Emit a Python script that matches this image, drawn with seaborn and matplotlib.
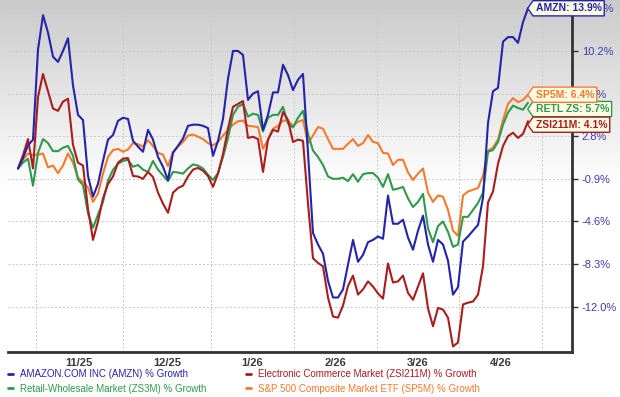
import numpy as np
import pandas as pd
import matplotlib
matplotlib.use('Agg')
import matplotlib.pyplot as plt
from matplotlib.lines import Line2D
from matplotlib.path import Path
import seaborn as sns

# % growth, one value per sample (~ every trading day or two)
amzn = [0.0, 0.9, 2.0, 2.5, 10.3, 13.3, 11.8, 9.7, 9.25, 10.2, 11.3, 7.2, 4.65, 4.2, -0.65, -2.45, -1.33, 0.66, 2.5, 2.9,
        4.13, 4.4, 4.3, 2.4, 1.9, 1.45, 3.35, 2.5, 1.0, 0.14, -1.0, 1.35, 1.96, 2.6, 3.7, 3.8, 3.8, 3.7, 3.5, 1.1,
        2.4, 4.3, 7.8, 10.2, 10.2, 9.85, 5.95, 6.5, 6.7, 3.35, 4.65, 6.6, 6.6, 9.0, 8.1, 6.8, 7.7, 8.2, 1.35, -5.6,
        -6.6, -7.4, -9.75, -11.2, -11.2, -10.5, -8.35, -6.2, -8.1, -7.5, -6.4, -6.2, -5.9, -6.1, -2.35, -4.8, -4.8, -4.45, -6.0, -7.05,
        -5.4, -4.1, -6.6, -8.1, -6.2, -6.6, -8.0, -10.95, -10.3, -6.35, -5.9, -5.4, -4.9, -2.55, 3.95, 6.7, 7.0, 11.0, 11.4, 11.4,
        10.9, 12.7, 13.9]
zsi211m = [0.0, 1.15, 2.55, 0.0, 6.2, 8.2, 6.7, 5.2, 5.0, 5.8, 6.05, 2.05, 0.5, 0.25, -3.5, -6.2, -4.6, -2.6, -1.35, -0.7,
           0.5, 0.85, 0.9, -0.65, -0.7, -0.9, -0.3, -0.75, -2.1, -3.05, -3.85, -2.1, -1.7, -1.5, -0.7, -0.1, 0.05, -0.2, -0.65, -1.6,
           -0.45, 1.25, 3.45, 5.35, 5.6, 5.85, 2.65, 2.75, 2.55, -0.3, 2.5, 3.35, 3.2, 4.9, 4.2, 2.3, 2.5, 2.4, -3.05, -7.8,
           -8.2, -8.5, -11.2, -12.85, -12.95, -11.9, -10.2, -9.3, -10.95, -10.5, -9.8, -10.25, -10.85, -11.3, -8.25, -9.9, -9.8, -9.3, -10.8, -11.4,
           -10.25, -9.1, -12.15, -13.7, -12.1, -12.25, -12.95, -15.45, -15.1, -11.8, -11.65, -11.55, -10.95, -8.5, -2.95, -2.0, 0.4, 1.95, 2.8, 3.1,
           2.65, 3.0, 4.1]
zs3m = [0.0, 0.5, 0.85, -1.5, 1.35, 2.55, 2.2, 1.5, 1.5, 1.8, 1.95, 1.1, -0.95, -1.45, -3.9, -5.15, -4.0, -2.9, -1.05, -0.12,
        0.4, 0.65, 0.75, 0.15, 0.3, -0.1, -0.3, 0.65, -0.1, -0.6, -1.1, -0.3, -0.35, -0.45, 0.0, 0.35, 0.25, 0.0, -0.55, -1.0,
        -0.4, 1.0, 2.65, 4.65, 5.35, 5.6, 4.5, 4.75, 4.65, 3.2, 4.4, 4.65, 4.65, 5.35, 3.9, 3.55, 4.4, 5.0, 3.0, 1.55,
        1.0, 0.3, -0.7, -0.9, -0.9, -0.8, -1.1, -0.5, -1.15, -0.5, -0.4, -0.4, -0.8, -1.6, -0.5, -1.85, -1.75, -1.6, -2.6, -3.35,
        -2.9, -2.2, -5.2, -6.4, -5.0, -4.6, -5.5, -6.8, -6.6, -4.2, -4.2, -3.6, -3.0, -2.1, 1.45, 1.6, 2.3, 3.8, 4.85, 5.45,
        5.25, 5.1, 5.7]
sp5m = [0.0, 0.75, 1.3, 1.15, 1.2, 1.3, 0.1, 0.25, -0.4, 0.25, 1.3, 0.5, -0.8, -1.2, -1.65, -2.9, -2.2, -0.45, 1.0, 1.6,
        1.7, 1.45, 1.65, 2.2, 2.1, 1.9, 2.45, 1.95, 1.35, 1.2, 0.2, 1.45, 1.9, 2.3, 2.85, 2.95, 2.75, 2.55, 2.2, 2.0,
        2.3, 2.85, 3.35, 3.8, 4.1, 4.15, 3.7, 3.65, 3.6, 1.7, 2.5, 3.45, 3.7, 4.15, 4.15, 3.7, 4.05, 4.2, 2.2, 2.85,
        3.6, 3.45, 2.55, 1.7, 1.7, 1.7, 2.15, 2.55, 1.95, 2.2, 2.9, 2.3, 2.2, 1.35, 1.3, 0.3, 0.75, 0.75, -0.35, -1.0,
        -0.45, 0.0, -2.1, -2.9, -2.35, -2.45, -3.6, -5.4, -5.85, -2.35, -2.0, -1.85, -1.7, -0.65, 1.55, 1.8, 2.5, 4.2, 5.6, 6.1,
        5.75, 5.95, 6.4]

legend_labels = ['AMAZON.COM INC (AMZN) % Growth',
                 'Retail-Wholesale Market (ZS3M) % Growth',
                 'Electronic Commerce Market (ZSI211M) % Growth',
                 'S&P 500 Composite Market ETF (SP5M) % Growth']
tag_names = ['AMZN', 'RETL ZS', 'ZSI211M', 'SP5M']
colors = ['#2424a8', '#2f9a4c', '#a81e1e', '#f77a2c']
series = [amzn, zs3m, zsi211m, sp5m]

month_labels = ['11/25', '12/25', '1/26', '2/26', '3/26', '4/26']
month_edges = [3.5, 21.0, 38.5, 55.1, 71.8, 88.2, 104.8]   # in sample units
y_ticks = [-12.0, -8.3, -4.6, -0.9, 2.8, 6.5, 10.2, 13.9]


def tag_box(x0, y0, width, height, mutation_size):
    # label box with a pointed left end
    pad = 0.25 * mutation_size
    x0, y0 = x0 - pad, y0 - pad
    x1, y1 = x0 + width + 2 * pad, y0 + height + 2 * pad
    tip = 0.35 * (y1 - y0)
    verts = [(x0, y0), (x1, y0), (x1, y1), (x0, y1), (x0 - tip, (y0 + y1) / 2), (x0, y0)]
    return Path(verts, closed=True)


sns.set_theme(style='white')
plt.rcParams['font.family'] = ['Liberation Sans', 'DejaVu Sans']

fig = plt.figure(figsize=(6.2, 3.97), dpi=100)

# grey-to-white wash at the top
bg = fig.add_axes([0, 0, 1, 1], zorder=-10)
rows = np.arange(397)
shade = np.clip(0.79 + 0.21 * rows / 190, 0, 1)
bg.imshow(np.column_stack([shade, shade]), aspect='auto', cmap='gray', vmin=0, vmax=1, extent=[0, 1, 0, 1])
bg.axis('off')

ax = fig.add_axes([8 / 620, 45 / 397, 564 / 620, 352 / 397])
ax.set_facecolor('none')

days = np.arange(len(amzn))
# draw order: orange, green, red, blue on top
for idx in [3, 1, 2, 0]:
    sns.lineplot(x=days, y=series[idx], color=colors[idx], lw=1.5, ax=ax)

ax.set_xlim(-2, 110.8)
ax.set_ylim(-15.93, 14.62)

ax.set_xticks([(a + b) / 2 for a, b in zip(month_edges[:-1], month_edges[1:])])
ax.set_xticklabels(month_labels, fontsize=8, fontweight='bold', color='#3a3a3a')
ax.set_xticks(month_edges, minor=True)
ax.tick_params(axis='x', which='both', length=0, pad=4)
ax.grid(True, which='minor', axis='x', ls=(0, (2, 2)), color='#c8c8c8', lw=0.7)
ax.grid(False, which='major', axis='x')

ax.yaxis.tick_right()
ax.set_yticks(y_ticks)
ax.set_yticklabels([f'{v:.1f}%' for v in y_ticks], fontsize=8, color='#3c3cb0')
ax.tick_params(axis='y', length=4, width=1, color='#333333', pad=3, direction='out')
ax.grid(True, which='major', axis='y', ls=(0, (2, 2)), color='#c8c8c8', lw=0.7)

for side in ['left', 'top']:
    ax.spines[side].set_visible(False)
for side in ['right', 'bottom']:
    ax.spines[side].set_color('#333333')
    ax.spines[side].set_linewidth(2)

ax.set_xlabel('')
ax.set_ylabel('')

# end-of-line tags
nudges = [0, -4.5, -2.5, 0]
for vals, name, col, dy in zip(series, tag_names, colors, nudges):
    ax.annotate(f'{name}: {vals[-1]:.1f}%', xy=(days[-1], vals[-1]), xytext=(5.5, dy),
                textcoords='offset points', ha='left', va='center',
                fontsize=7.5, fontweight='bold', color=col, zorder=10,
                annotation_clip=False,
                bbox=dict(boxstyle=tag_box, fc='#fdfbe4', ec=col, lw=1))

handles = [Line2D([0], [0], color=c, lw=2) for c in colors]
fig.legend(handles, legend_labels, loc='upper left', bbox_to_anchor=(8 / 620, 1 - 369 / 397),
           ncol=2, frameon=False, fontsize=7, labelcolor='linecolor',
           handlelength=0.5, handletextpad=0.7, columnspacing=4.1,
           labelspacing=0.5, borderpad=0, borderaxespad=0)

fig.savefig('out.png', dpi=100)
